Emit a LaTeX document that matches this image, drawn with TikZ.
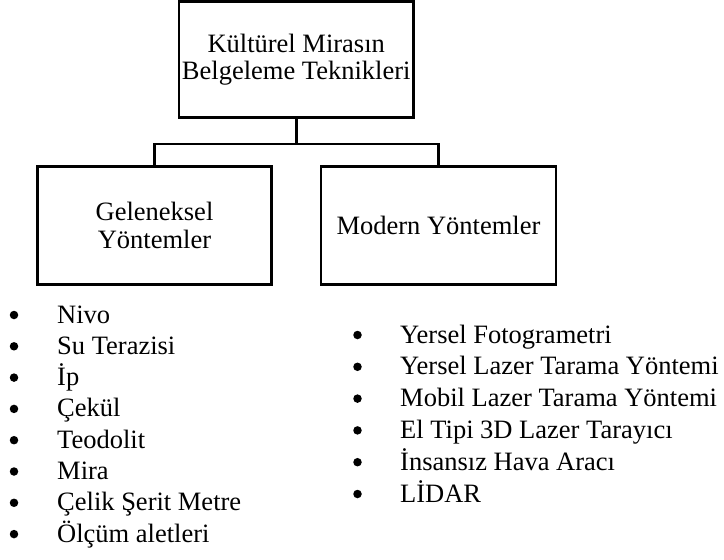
\documentclass[tikz,border=0pt]{standalone}
\usepackage{fontspec}
\setmainfont{Liberation Serif}
\begin{document}
\begin{tikzpicture}[x=1pt,y=-1pt,
  box/.style={draw, line width=2.6pt, inner sep=0pt, align=center,
    font=\fontsize{26.5}{27.5}\selectfont},
  link/.style={line width=2.6pt},
  itemtext/.style={anchor=base west, inner sep=0pt, font=\fontsize{26.5}{27.5}\selectfont},
  dot/.style={circle, fill, inner sep=0pt, minimum size=8.5pt}]
\useasboundingbox (0,0) rectangle (724,560);

% boxes of the hierarchy
\node[box, minimum width=234.3pt, minimum height=115.6pt] (top) at (296.2,59.5)
  {Kültürel Mirasın\\Belgeleme Teknikleri};
\node[box, minimum width=234.4pt, minimum height=117.6pt] (left) at (154.5,225.5)
  {Geleneksel\\Yöntemler};
\node[box, minimum width=235pt, minimum height=117.6pt] (right) at (438.5,225.5)
  {Modern Yöntemler};

% connectors
\draw[link] (top.south) -- ++(0,25.4) coordinate (bus);
\draw[link] (left.north) |- (bus) -| (right.north);

% bullet list under the traditional methods
\foreach \t [count=\i] in {Nivo, Su Terazisi, İp, Çekül, Teodolit, Mira,
    Çelik Şerit Metre, Ölçüm aletleri} {
  \node[dot] (gb\i) at (14, {315+31.3*(\i-1)}) {};
  \node[itemtext] (g\i) at (57, {323+31.3*(\i-1)}) {\t};
}

% bullet list under the modern methods
\foreach \t [count=\i] in {Yersel Fotogrametri, Yersel Lazer Tarama Yöntemi,
    Mobil Lazer Tarama Yöntemi, El Tipi 3D Lazer Tarayıcı,
    İnsansız Hava Aracı, LİDAR} {
  \node[dot] (mb\i) at (357.5, {335+31.8*(\i-1)}) {};
  \node[itemtext] (m\i) at (400, {343+31.8*(\i-1)}) {\t};
}
\end{tikzpicture}
\end{document}
